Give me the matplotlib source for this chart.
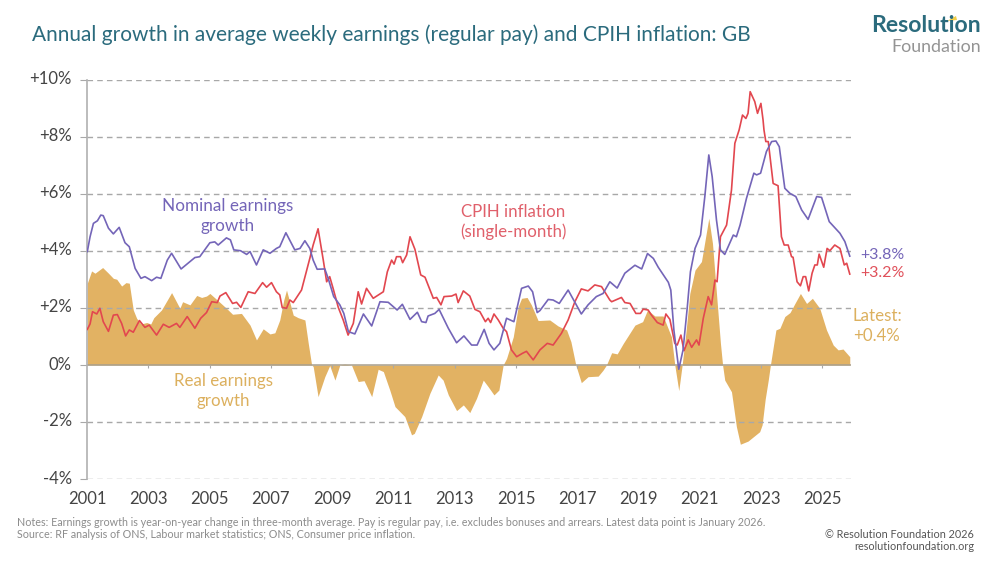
import matplotlib
matplotlib.use('Agg')
import matplotlib.pyplot as plt
from matplotlib.patches import Polygon
from matplotlib.transforms import ScaledTranslation

plt.rcParams['font.family'] = ['Lato', 'DejaVu Sans']

# nominal earnings growth
nominal_x = [2001.01, 2001.10, 2001.21, 2001.34, 2001.45, 2001.53, 2001.70, 2001.86, 2002.05, 2002.24, 2002.38, 2002.57,
             2002.76, 2002.89, 2003.11, 2003.27, 2003.41, 2003.62, 2003.76, 2004.07, 2004.25, 2004.52, 2004.68, 2005.01,
             2005.17, 2005.28, 2005.55, 2005.68, 2005.79, 2006.01, 2006.21, 2006.32, 2006.53, 2006.75, 2006.97, 2007.18,
             2007.29, 2007.49, 2007.78, 2007.95, 2008.11, 2008.27, 2008.38, 2008.51, 2008.76, 2008.87, 2009.05, 2009.25,
             2009.38, 2009.53, 2009.74, 2010.02, 2010.29, 2010.56, 2010.83, 2011.12, 2011.29, 2011.54, 2011.78, 2011.92,
             2012.06, 2012.13, 2012.35, 2012.49, 2012.79, 2013.06, 2013.30, 2013.55, 2013.73, 2013.96, 2014.12, 2014.28,
             2014.47, 2014.69, 2014.93, 2015.18, 2015.40, 2015.54, 2015.69, 2015.78, 2016.05, 2016.21, 2016.41, 2016.70,
             2017.13, 2017.35, 2017.62, 2017.84, 2018.06, 2018.30, 2018.55, 2018.88, 2019.10, 2019.29, 2019.48, 2019.64,
             2019.97, 2020.05, 2020.15, 2020.31, 2020.45, 2020.59, 2020.69, 2020.84, 2021.02, 2021.16, 2021.29, 2021.40,
             2021.54, 2021.67, 2021.81, 2022.09, 2022.19, 2022.31, 2022.52, 2022.76, 2022.85, 2022.98, 2023.17, 2023.34,
             2023.48, 2023.59, 2023.77, 2023.94, 2024.13, 2024.32, 2024.53, 2024.81, 2024.97, 2025.22, 2025.57, 2025.73,
             2025.89]
nominal_y = [3.98, 4.50, 4.97, 5.06, 5.26, 5.24, 4.80, 4.60, 4.83, 4.29, 4.15, 3.39,
             3.04, 3.10, 2.96, 3.08, 3.04, 3.68, 3.92, 3.37, 3.53, 3.77, 3.80, 4.29,
             4.32, 4.21, 4.46, 4.39, 4.04, 4.01, 3.88, 3.98, 3.51, 4.04, 3.92, 4.09,
             4.15, 4.64, 4.04, 4.09, 4.36, 4.09, 3.68, 3.36, 3.37, 3.04, 2.40, 2.11,
             1.81, 1.17, 1.09, 1.79, 1.37, 2.22, 2.20, 1.93, 2.13, 1.60, 1.85, 1.52,
             1.49, 1.72, 1.81, 1.95, 1.29, 0.78, 1.02, 0.70, 0.70, 1.25, 0.76, 0.53,
             0.76, 1.64, 1.52, 2.69, 2.77, 2.57, 1.84, 1.91, 2.30, 2.28, 2.16, 2.63,
             1.79, 2.11, 2.40, 2.51, 2.92, 2.70, 3.22, 3.50, 3.37, 3.91, 3.74, 3.43,
             2.90, 2.63, 1.23, -0.15, 0.53, 2.05, 3.27, 4.09, 4.56, 5.91, 7.37, 6.61,
             5.09, 4.04, 3.88, 4.56, 4.50, 4.91, 5.85, 6.73, 6.67, 6.73, 7.49, 7.84,
             7.86, 7.66, 6.20, 6.02, 5.91, 5.44, 5.11, 5.91, 5.88, 5.03, 4.62, 4.33,
             3.82]

# CPIH inflation
cpih_x = [2001.01, 2001.10, 2001.18, 2001.32, 2001.42, 2001.53, 2001.70, 2001.86, 2001.99, 2002.13, 2002.26, 2002.38,
          2002.51, 2002.71, 2002.89, 2003.03, 2003.27, 2003.49, 2003.68, 2003.92, 2004.03, 2004.27, 2004.52, 2004.71,
          2004.90, 2005.07, 2005.25, 2005.34, 2005.53, 2005.75, 2005.88, 2006.02, 2006.26, 2006.37, 2006.48, 2006.73,
          2006.86, 2007.02, 2007.18, 2007.29, 2007.37, 2007.51, 2007.62, 2007.73, 2008.00, 2008.27, 2008.38, 2008.54,
          2008.71, 2008.82, 2008.92, 2009.03, 2009.20, 2009.36, 2009.52, 2009.69, 2009.85, 2009.96, 2010.12, 2010.34,
          2010.67, 2010.80, 2010.94, 2011.02, 2011.10, 2011.23, 2011.30, 2011.43, 2011.54, 2011.70, 2011.89, 2012.03,
          2012.30, 2012.41, 2012.55, 2012.65, 2012.90, 2013.04, 2013.11, 2013.28, 2013.49, 2013.66, 2013.82, 2014.00,
          2014.09, 2014.17, 2014.28, 2014.42, 2014.58, 2014.69, 2014.85, 2015.02, 2015.21, 2015.34, 2015.56, 2015.78,
          2016.02, 2016.21, 2016.48, 2016.70, 2016.92, 2017.13, 2017.35, 2017.57, 2017.79, 2018.06, 2018.12, 2018.44,
          2018.55, 2018.72, 2018.91, 2019.06, 2019.15, 2019.31, 2019.42, 2019.61, 2019.80, 2019.89, 2020.02, 2020.18,
          2020.26, 2020.38, 2020.48, 2020.62, 2020.73, 2020.89, 2020.97, 2021.11, 2021.27, 2021.38, 2021.49, 2021.56,
          2021.67, 2021.87, 2022.03, 2022.14, 2022.28, 2022.39, 2022.50, 2022.57, 2022.64, 2022.79, 2022.88, 2022.99,
          2023.06, 2023.09, 2023.15, 2023.23, 2023.39, 2023.55, 2023.66, 2023.75, 2023.88, 2023.99, 2024.04, 2024.17,
          2024.28, 2024.37, 2024.45, 2024.55, 2024.66, 2024.75, 2024.83, 2024.89, 2025.04, 2025.15, 2025.24, 2025.40,
          2025.57, 2025.71, 2025.79, 2025.89]
cpih_y = [1.25, 1.44, 1.87, 1.79, 1.99, 1.52, 1.18, 1.75, 1.77, 1.46, 1.02, 1.23,
          1.15, 1.56, 1.32, 1.40, 1.05, 1.43, 1.32, 1.46, 1.32, 1.70, 1.29, 1.64,
          1.84, 2.22, 2.19, 2.42, 2.54, 2.16, 2.20, 2.02, 2.57, 2.54, 2.51, 2.89,
          2.73, 2.89, 2.57, 2.46, 2.02, 1.99, 2.28, 2.19, 2.63, 3.74, 4.21, 4.78,
          3.68, 2.92, 3.10, 2.69, 2.02, 1.58, 1.05, 1.46, 2.57, 2.14, 2.69, 2.34,
          2.57, 3.27, 3.68, 3.54, 3.80, 3.80, 3.59, 3.86, 4.50, 4.06, 3.16, 3.08,
          2.34, 2.37, 2.11, 2.40, 2.42, 2.49, 2.19, 2.60, 2.42, 1.95, 1.87, 1.52,
          1.64, 1.49, 1.79, 1.58, 1.29, 1.17, 0.53, 0.29, 0.41, 0.48, 0.18, 0.53,
          0.76, 0.70, 1.11, 1.58, 2.22, 2.67, 2.60, 2.81, 2.75, 2.28, 2.22, 2.37,
          2.19, 2.16, 1.81, 1.81, 1.96, 1.93, 1.75, 1.49, 1.40, 1.79, 1.60, 0.76,
          0.70, 1.05, 0.50, 0.88, 0.62, 0.88, 0.70, 1.64, 2.40, 2.11, 2.98, 2.92,
          4.50, 4.91, 6.14, 7.78, 8.25, 8.77, 8.65, 8.83, 9.59, 9.24, 8.83, 9.18,
          8.60, 8.25, 7.84, 7.84, 6.37, 6.29, 4.50, 4.21, 4.21, 3.80, 3.78, 2.92,
          2.78, 3.10, 3.10, 2.60, 3.22, 3.51, 3.51, 3.89, 3.43, 4.09, 4.01, 4.21,
          4.09, 3.51, 3.57, 3.19]

# real earnings growth (the filled area)
real_x = [2001.01, 2001.15, 2001.26, 2001.51, 2001.70, 2001.86, 2001.97, 2002.13, 2002.27, 2002.38, 2002.51, 2002.62,
          2002.76, 2002.95, 2003.08, 2003.18, 2003.43, 2003.62, 2003.76, 2004.03, 2004.12, 2004.36, 2004.58, 2004.74,
          2004.90, 2005.01, 2005.23, 2005.55, 2005.75, 2006.04, 2006.32, 2006.53, 2006.75, 2006.97, 2007.13, 2007.29,
          2007.42, 2007.51, 2007.73, 2007.89, 2008.11, 2008.22, 2008.33, 2008.38, 2008.54, 2008.76, 2008.92, 2009.09,
          2009.25, 2009.40, 2009.63, 2009.74, 2009.85, 2010.04, 2010.29, 2010.50, 2010.67, 2010.88, 2011.05, 2011.37,
          2011.59, 2011.68, 2011.92, 2012.19, 2012.46, 2012.62, 2012.79, 2013.06, 2013.28, 2013.49, 2013.71, 2013.93,
          2014.09, 2014.28, 2014.44, 2014.58, 2014.69, 2014.91, 2015.07, 2015.18, 2015.36, 2015.50, 2015.72, 2016.10,
          2016.37, 2016.65, 2016.79, 2016.95, 2017.13, 2017.35, 2017.68, 2017.84, 2017.95, 2018.12, 2018.30, 2018.50,
          2018.88, 2019.13, 2019.29, 2019.53, 2019.80, 2020.07, 2020.18, 2020.31, 2020.42, 2020.54, 2020.67, 2020.84,
          2021.05, 2021.29, 2021.41, 2021.54, 2021.67, 2021.74, 2021.81, 2022.03, 2022.19, 2022.32, 2022.57, 2022.95,
          2023.03, 2023.13, 2023.23, 2023.30, 2023.48, 2023.61, 2023.77, 2023.94, 2024.10, 2024.28, 2024.48, 2024.67,
          2024.91, 2025.13, 2025.35, 2025.51, 2025.67, 2025.89]
real_y = [2.87, 3.30, 3.22, 3.42, 3.22, 3.04, 3.01, 2.77, 2.89, 2.87, 1.93, 1.64,
          1.44, 1.49, 1.44, 1.66, 1.93, 2.28, 2.54, 1.99, 2.22, 2.11, 2.44, 2.37,
          2.42, 2.51, 2.30, 1.99, 1.78, 1.81, 1.40, 0.88, 1.27, 1.09, 1.13, 1.58,
          2.28, 2.63, 1.75, 1.66, 1.58, 0.76, 0.00, -0.05, -1.11, -0.41, -0.02, -0.53,
          0.00, 0.03, 0.00, -0.29, -0.58, -0.55, -1.11, -0.15, -0.23, -0.88, -1.46, -1.81,
          -2.45, -2.40, -1.81, -0.99, -0.35, -0.53, -1.05, -1.60, -1.40, -1.67, -1.17, -0.53,
          -0.76, -1.05, -0.88, 0.00, 0.23, 0.99, 2.05, 2.34, 2.37, 2.11, 1.56, 1.58,
          1.37, 1.23, 0.82, 0.00, -0.62, -0.41, -0.39, -0.18, 0.00, 0.43, 0.39, 0.76,
          1.40, 1.52, 1.93, 1.72, 1.72, 0.99, 0.00, -0.90, 0.00, 1.11, 2.51, 3.33,
          3.63, 5.15, 4.27, 2.51, 0.76, 0.00, -0.53, -0.94, -2.16, -2.78, -2.67, -2.34,
          -2.10, -1.20, -0.53, 0.00, 1.23, 1.29, 1.70, 1.84, 2.16, 2.51, 2.16, 2.34,
          1.99, 1.23, 0.70, 0.53, 0.56, 0.29]

year_ticks = [2001, 2003, 2005, 2007, 2009, 2011, 2013, 2015, 2017, 2019, 2021, 2023, 2025]
y_ticks = [-4, -2, 0, 2, 4, 6, 8, 10]
y_labels = ['-4%', '-2%', '0%', '+2%', '+4%', '+6%', '+8%', '+10%']

PURPLE = '#7465b8'
RED = '#e2474f'
GOLD = '#e2b263'
GRID = '#a8a8a8'
TEAL = '#2b6b7d'
NOTE = '#8c8c8c'

W, H = 1000, 563


def px_text(x, y, s, **kw):
    # place text by pixel position, y measured from the top
    kw.setdefault('va', 'center')
    return fig.text(x / W, 1 - y / H, s, **kw)


fig = plt.figure(figsize=(10, 5.63), dpi=100, facecolor='white')
ax = fig.add_axes([87 / W, 1 - 479 / H, 764 / W, 399 / H])

ax.set_xlim(2001, 2025.93)
ax.set_ylim(-4, 10)

ax.fill_between(real_x, real_y, 0, color=GOLD, lw=0, zorder=1)
for t in y_ticks:
    if t != 0:
        ax.axhline(t, color=GRID, lw=1, ls=(0, (4, 3)), zorder=2)
ax.axhline(0, color='#a89f8e', lw=1.1, zorder=2)
ax.vlines(year_ticks[1:], -0.1, 0, color='#a8a8a8', lw=0.8, zorder=2)
ax.plot(cpih_x, cpih_y, color=RED, lw=1.2, zorder=3)
ax.plot(nominal_x, nominal_y, color=PURPLE, lw=1.2, zorder=4)

for side in ['top', 'right', 'bottom']:
    ax.spines[side].set_visible(False)
ax.spines['left'].set_color('#b0b0b0')
ax.spines['left'].set_linewidth(1.2)

ax.set_xticks(year_ticks)
ax.set_xticklabels([str(y) for y in year_ticks])
ax.set_yticks(y_ticks)
ax.set_yticklabels(y_labels)
ax.tick_params(axis='x', length=0, pad=9, labelsize=12, labelcolor='#444444')
ax.tick_params(axis='y', length=5, width=0.8, color=GRID, pad=6, labelsize=12, labelcolor='#444444')

# tick labels sit a little above their gridlines in the reference
shift = ScaledTranslation(0, 2 / 100, fig.dpi_scale_trans)
for lab in ax.get_yticklabels():
    lab.set_transform(lab.get_transform() + shift)

# titles and direct labels
px_text(32, 35, 'Annual growth in average weekly earnings (regular pay) and CPIH inflation: GB',
        color=TEAL, fontsize=15.03)

px_text(228, 216, 'Nominal earnings\ngrowth', color=PURPLE, fontsize=12.3, ha='center', linespacing=1.25)
px_text(513, 222, 'CPIH inflation\n(single-month)', color='#e0606b', fontsize=12.2, ha='center', linespacing=1.2)
px_text(223, 391, 'Real earnings\ngrowth', color='#dcb05e', fontsize=12.2, ha='center', linespacing=1.25)
px_text(860, 255, '+3.8%', color=PURPLE, fontsize=11.5)
px_text(860, 273, '+3.2%', color='#e0505a', fontsize=11.5)
px_text(853, 326, 'Latest:\n+0.4%', color='#dcb05e', fontsize=12.2, linespacing=1.25)

# footnotes
px_text(17, 522, 'Notes: Earnings growth is year-on-year change in three-month average. Pay is regular pay, '
        'i.e. excludes bonuses and arrears. Latest data point is January 2026.', color=NOTE, fontsize=7.76)
px_text(17, 534, 'Source: RF analysis of ONS, Labour market statistics; ONS, Consumer price inflation.',
        color=NOTE, fontsize=7.76)
px_text(974, 535, '\u00a9 Resolution Foundation 2026', color='#555555', fontsize=7.8, ha='right')
px_text(974, 547, 'resolutionfoundation.org', color='#555555', fontsize=7.8, ha='right')

# logo
px_text(981, 26, 'Resolution', color='#2b6b7d', fontsize=16.6, fontweight='bold', ha='right')
px_text(981, 46.5, 'Foundation', color='#949494', fontsize=12.8, ha='right')
fig.patches.append(Polygon([(947 / W, 1 - 21 / H), (956 / W, 1 - 16 / H), (957 / W, 1 - 20 / H)],
                           closed=True, transform=fig.transFigure, fc='#f2d04a', ec='none'))

fig.savefig('out.png', dpi=100)
